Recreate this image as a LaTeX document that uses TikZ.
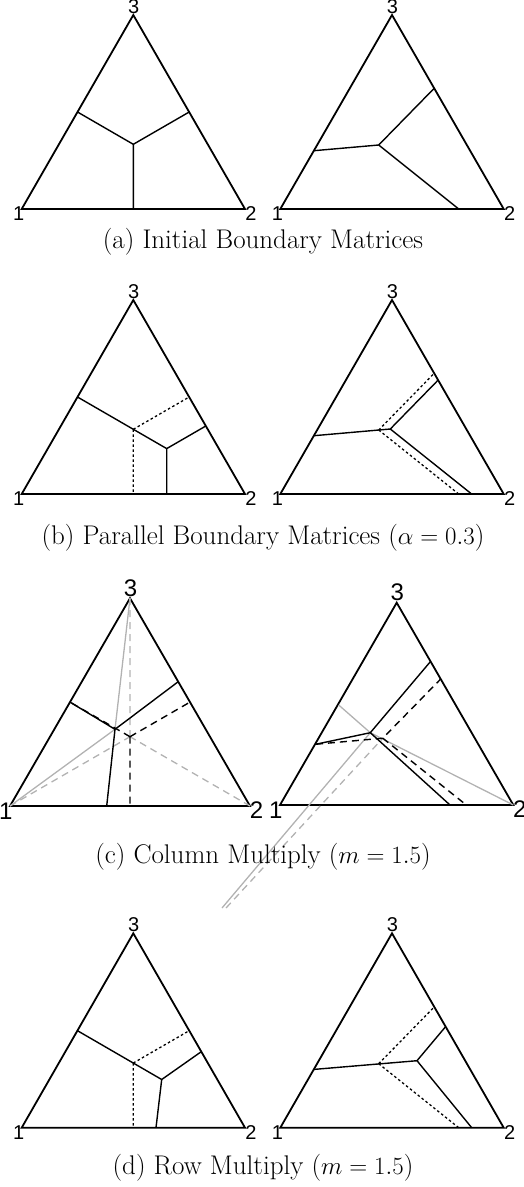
\documentclass[tikz,border=0pt]{standalone}
\usepackage{fontspec}
\newfontfamily\lblfont{Liberation Sans}
\usetikzlibrary{calc}
\tikzset{
 tri/.style={line width=1.8pt, line join=miter},
 bdry/.style={line width=1.4pt},
 dotb/.style={line width=1.3pt, dash pattern=on 2.5pt off 2.5pt},
 dashb/.style={line width=1.4pt, dash pattern=on 7pt off 5pt},
 grayl/.style={line width=1.3pt, draw=black!30},
 grayd/.style={line width=1.3pt, draw=black!30, dash pattern=on 7pt off 5pt},
 vlbl/.style={font=\lblfont\fontsize{20}{20}\selectfont, inner sep=0pt},
 vlblc/.style={font=\lblfont\fontsize{24}{24}\selectfont, inner sep=0pt},
 capt/.style={font=\fontsize{27}{31}\selectfont, inner sep=0pt},
}
\newcommand\tritri[5]{% prefix, v1, v2, v3, label style
 \coordinate (#1v1) at #2; \coordinate (#1v2) at #3; \coordinate (#1v3) at #4;
 \draw[tri] (#1v1) -- (#1v2) -- (#1v3) -- cycle;
 \node[#5] (#1n1) at ($(#1v1)+(-2.9,4.6)$) {1};
 \node[#5] (#1n2) at ($(#1v2)+(6,4.6)$) {2};
 \node[#5] (#1n3) at ($(#1v3)+(0.5,-8.6)$) {3};
}
\newcommand\tritric[4]{% prefix, v1, v2, v3 (bigger labels)
 \coordinate (#1v1) at #2; \coordinate (#1v2) at #3; \coordinate (#1v3) at #4;
 \draw[tri] (#1v1) -- (#1v2) -- (#1v3) -- cycle;
 \node[vlblc] (#1n1) at ($(#1v1)+(-4.3,5)$) {1};
 \node[vlblc] (#1n2) at ($(#1v2)+(6.5,4)$) {2};
 \node[vlblc] (#1n3) at ($(#1v3)+(0.6,-10)$) {3};
}
\begin{document}
\begin{tikzpicture}[x=1pt,y=-1pt]
\useasboundingbox (0,0) rectangle (523,1187);
% ---------------- (a)
\tritri{aL}{(21.7,209)}{(245,209)}{(133.3,15)}{vlbl}
\coordinate (aLm13) at (77.5,112); \coordinate (aLm23) at (189.2,112);
\coordinate (aLc) at (133.3,144.3); \coordinate (aLb) at (133.3,209);
\draw[bdry] (aLm13) -- (aLc) -- (aLm23) (aLc) -- (aLb);
\tritri{aR}{(280.3,209)}{(503.7,209)}{(392,15)}{vlbl}
\coordinate (aRl) at (313.9,150.7); \coordinate (aRj) at (378.7,145);
\coordinate (aRr) at (434.2,88.3); \coordinate (aRb) at (458.7,209);
\draw[bdry] (aRl) -- (aRj) -- (aRr) (aRj) -- (aRb);
\node[capt] (capa) at (263,242) {(a) Initial Boundary Matrices};
% ---------------- (b)
\tritri{bL}{(21.7,494)}{(245,494)}{(133.3,300)}{vlbl}
\coordinate (bLm13) at (77.5,397); \coordinate (bLm23) at (189.2,397);
\coordinate (bLc) at (133.3,429.3); \coordinate (bLb0) at (133.3,494);
\coordinate (bLj) at (166.7,448.6); \coordinate (bLr) at (205.8,426);
\coordinate (bLb) at (166.7,494);
\draw[dotb] (bLc) -- (bLm23) (bLc) -- (bLb0);
\draw[bdry] (bLm13) -- (bLj) -- (bLr) (bLj) -- (bLb);
\tritri{bR}{(280.3,494)}{(503.7,494)}{(392,300)}{vlbl}
\coordinate (bRl) at (313.9,435.7); \coordinate (bRj0) at (378.7,430);
\coordinate (bRr0) at (434.2,373.3); \coordinate (bRb0) at (458.7,494);
\coordinate (bRj) at (390.3,429); \coordinate (bRr) at (438.1,380.1);
\coordinate (bRb) at (471.6,494);
\draw[dotb] (bRj0) -- (bRr0) (bRj0) -- (bRb0);
\draw[bdry] (bRl) -- (bRj) -- (bRr) (bRj) -- (bRb);
\node[capt] (capb) at (263,538) {(b) Parallel Boundary Matrices ($\alpha = 0.3$)};
% ---------------- (c)
\tritric{cL}{(10,806)}{(250,806)}{(130,598.2)}
\coordinate (cLm13) at (70,702.1); \coordinate (cLm23) at (190,702.1);
\coordinate (cLc) at (130,736.7); \coordinate (cLb0) at (130,806);
\coordinate (cLj) at (115,729.3); \coordinate (cLr) at (178.2,681.7);
\coordinate (cLb) at (106.7,806);
\draw[grayd] (cLv1) -- (cLc) (cLv2) -- (cLc) (cLv3) -- (cLc);
\draw[grayl] (cLv1) -- (cLj) (cLv3) -- (cLj);
\draw[dashb] (cLc) -- (cLm13) (cLc) -- (cLm23) (cLc) -- (cLb0);
\draw[bdry] (cLm13) -- (cLj) -- (cLr) (cLj) -- (cLb);
\tritric{cR}{(280,805)}{(513.3,805)}{(396.7,602.7)}
\coordinate (cRl) at (316,744.2); \coordinate (cRj0) at (382.8,738.2);
\coordinate (cRr0) at (440.7,679); \coordinate (cRb0) at (466.3,805);
\coordinate (cRj) at (370.3,732.7); \coordinate (cRr) at (430.5,661.5);
\coordinate (cRb) at (450,805);
\coordinate (cRg1) at (222,908); \coordinate (cRg2) at (226,908);
\coordinate (cRg3) at (338.7,705);
\draw[grayl] (cRg1) -- (cRj) (cRg3) -- (cRj) -- (cRv2);
\draw[grayd] (cRg2) -- (cRj0);
\draw[dashb] (cRl) -- (cRj0) -- (cRr0) (cRj0) -- (cRb0);
\draw[bdry] (cRl) -- (cRj) -- (cRr) (cRj) -- (cRb);
\node[capt] (capc) at (263,857) {(c) Column Multiply ($m = 1.5$)};
% ---------------- (d)
\tritri{dL}{(21.7,1127.7)}{(245,1127.7)}{(133.3,933.3)}{vlbl}
\coordinate (dLm13) at (77.5,1030.7); \coordinate (dLm23) at (189.2,1030.7);
\coordinate (dLc) at (133.3,1063); \coordinate (dLb0) at (133.3,1127.7);
\coordinate (dLj) at (161.7,1079.5); \coordinate (dLr) at (200.8,1052);
\coordinate (dLb) at (156,1127.7);
\draw[dotb] (dLc) -- (dLm23) (dLc) -- (dLb0);
\draw[bdry] (dLm13) -- (dLj) -- (dLr) (dLj) -- (dLb);
\tritri{dR}{(280.3,1127.7)}{(503.7,1127.7)}{(392,933.3)}{vlbl}
\coordinate (dRl) at (313.9,1069.4); \coordinate (dRj0) at (378.7,1063.7);
\coordinate (dRr0) at (434.2,1007); \coordinate (dRb0) at (458.7,1127.7);
\coordinate (dRj) at (417,1060.7); \coordinate (dRr) at (445.3,1027);
\coordinate (dRb) at (471.7,1127.7);
\draw[dotb] (dRj0) -- (dRr0) (dRj0) -- (dRb0);
\draw[bdry] (dRl) -- (dRj) -- (dRr) (dRj) -- (dRb);
\node[capt] (capd) at (263,1168) {(d) Row Multiply ($m = 1.5$)};
\end{tikzpicture}
\end{document}
